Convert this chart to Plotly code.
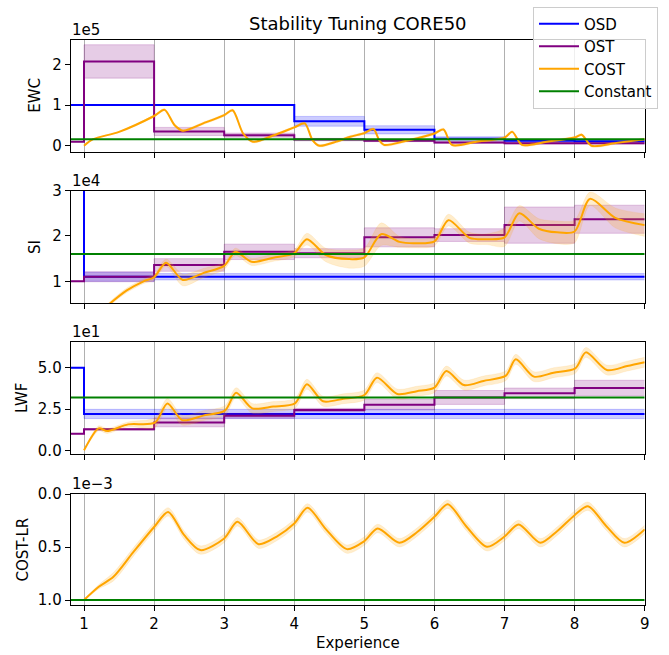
import plotly.graph_objects as go

W, H = 669, 655

# ---------------- data ----------------
methods = ["OSD", "OST", "COST", "Constant"]
colors = {"OSD": "#0000ff", "OST": "#800080", "COST": "#ffa500", "Constant": "#008000"}
band_rgba = {"OSD": "rgba(0,0,255,0.2)", "OST": "rgba(128,0,128,0.2)", "COST": "rgba(255,165,0,0.2)"}

# experience boundaries for the stepwise (per-experience) schedules
step_edges = [0.8, 1, 2, 3, 4, 5, 6, 7, 8, 9]

# EWC lambda
ewc_osd = [1.0e5, 1.0e5, 1.0e5, 1.0e5, 0.60e5, 0.39e5, 0.17e5, 0.12e5, 0.11e5]
ewc_osd_std = [0, 0, 0, 0, 0.12e5, 0.10e5, 0.05e5, 0.03e5, 0.02e5]
ewc_ost = [0.10e5, 2.07e5, 0.35e5, 0.26e5, 0.15e5, 0.12e5, 0.08e5, 0.06e5, 0.06e5]
ewc_ost_std = [0, 0.41e5, 0.10e5, 0.05e5, 0.03e5, 0.02e5, 0.02e5, 0.02e5, 0.02e5]
ewc_const = 1.6e4
ewc_cost_x = [1.0, 1.13, 1.5, 2.0, 2.15, 2.29, 2.41, 2.7, 3.0, 3.12, 3.27, 3.41, 3.7,
              4.0, 4.15, 4.26, 4.36, 4.6, 4.8, 5.0, 5.13, 5.21, 5.28, 5.6, 6.0, 6.13,
              6.25, 6.6, 7.0, 7.11, 7.25, 7.6, 8.0, 8.1, 8.24, 8.6, 9.0]
ewc_cost = [0.0, 0.16e5, 0.34e5, 0.73e5, 0.88e5, 0.51e5, 0.37e5, 0.55e5, 0.75e5, 0.87e5,
            0.30e5, 0.10e5, 0.25e5, 0.45e5, 0.55e5, 0.14e5, 0.0, 0.10e5, 0.22e5, 0.31e5,
            0.41e5, 0.14e5, 0.02e5, 0.12e5, 0.30e5, 0.40e5, 0.02e5, 0.10e5, 0.20e5,
            0.34e5, 0.02e5, 0.10e5, 0.20e5, 0.27e5, 0.0, 0.07e5, 0.16e5]
ewc_cost_std = [0.01e5] * 3 + [0.03e5] * 34

# SI lambda
si_osd = [1.0e5, 1.1e4, 1.1e4, 1.1e4, 1.1e4, 1.1e4, 1.1e4, 1.1e4, 1.1e4]
si_osd_std = [0, 0.10e4, 0.07e4, 0.07e4, 0.07e4, 0.07e4, 0.07e4, 0.07e4, 0.07e4]
si_ost = [1.0e4, 1.10e4, 1.36e4, 1.65e4, 1.62e4, 1.97e4, 2.02e4, 2.24e4, 2.37e4]
si_ost_std = [0, 0.11e4, 0.14e4, 0.17e4, 0.10e4, 0.21e4, 0.14e4, 0.40e4, 0.31e4]
si_const = 1.6e4
si_cost_x = [1.0, 1.37, 1.61, 1.85, 2.0, 2.17, 2.41, 2.7, 3.0, 3.16, 3.39, 3.7, 4.0,
             4.18, 4.45, 4.78, 5.0, 5.24, 5.5, 5.7, 6.0, 6.2, 6.5, 6.75, 7.0, 7.21,
             7.49, 7.75, 8.0, 8.22, 8.58, 9.0]
si_cost = [0.0, 0.51e4, 0.80e4, 1.00e4, 1.09e4, 1.41e4, 1.03e4, 1.18e4, 1.34e4, 1.65e4,
           1.43e4, 1.52e4, 1.62e4, 1.93e4, 1.58e4, 1.49e4, 1.53e4, 2.04e4, 1.87e4,
           1.84e4, 1.88e4, 2.35e4, 1.96e4, 1.93e4, 1.97e4, 2.50e4, 2.16e4, 2.08e4,
           2.10e4, 2.82e4, 2.40e4, 2.24e4]
si_cost_std = [0.02e4, 0.04e4, 0.05e4, 0.05e4, 0.06e4, 0.08e4, 0.13e4, 0.10e4, 0.08e4,
               0.08e4, 0.08e4, 0.08e4, 0.08e4, 0.13e4, 0.15e4, 0.20e4, 0.20e4, 0.25e4,
               0.12e4, 0.10e4, 0.10e4, 0.13e4, 0.12e4, 0.12e4, 0.20e4, 0.17e4, 0.22e4,
               0.25e4, 0.25e4, 0.15e4, 0.22e4, 0.25e4]

# LwF alpha
lwf_osd = [50, 22, 22, 22, 22, 22, 22, 22, 22]
lwf_osd_std = [0, 2.8, 2.8, 2.8, 2.8, 2.8, 2.8, 2.8, 2.8]
lwf_ost = [10, 12.7, 16.9, 20.9, 24.4, 27.6, 32.0, 34.5, 37.7]
lwf_ost_std = [0, 0.5, 2.7, 1.5, 1.0, 3.2, 4.2, 3.2, 4.7]
lwf_const = 32
lwf_cost_x = [1.0, 1.21, 1.33, 1.63, 2.01, 2.19, 2.40, 2.7, 3.01, 3.17, 3.40, 3.7, 4.01,
              4.18, 4.41, 4.7, 5.0, 5.18, 5.47, 5.75, 6.0, 6.17, 6.42, 6.7, 7.02, 7.16,
              7.42, 7.7, 8.01, 8.16, 8.46, 8.75, 9.0]
lwf_cost = [0.0, 13.3, 11.7, 15.7, 16.7, 28.4, 18.3, 21.0, 24.0, 34.9, 25.4, 26.5, 28.4,
            40.0, 29.7, 31.2, 33.5, 44.0, 34.1, 35.8, 37.9, 48.0, 39.5, 42.0, 45.2, 55.1,
            44.6, 47.0, 49.6, 59.3, 48.6, 51.0, 53.3]
lwf_cost_std = [0.5, 1.5, 1.5, 1.5] + [3.0] * 29

# COST learning rate
lr_const = 1.0e-3
lr_cost_x = [1.0, 1.21, 1.42, 1.7, 2.0, 2.2, 2.43, 2.66, 3.0, 3.19, 3.49, 3.75, 4.0, 4.19,
             4.45, 4.75, 5.0, 5.19, 5.5, 5.75, 6.0, 6.19, 6.45, 6.75, 7.0, 7.2, 7.51,
             7.75, 8.0, 8.19, 8.45, 8.71, 9.0]
lr_cost = [1.0e-3, 0.875e-3, 0.78e-3, 0.55e-3, 0.31e-3, 0.167e-3, 0.387e-3, 0.528e-3,
           0.418e-3, 0.261e-3, 0.472e-3, 0.40e-3, 0.277e-3, 0.129e-3, 0.33e-3, 0.519e-3,
           0.443e-3, 0.324e-3, 0.459e-3, 0.36e-3, 0.214e-3, 0.094e-3, 0.30e-3, 0.497e-3,
           0.40e-3, 0.286e-3, 0.459e-3, 0.35e-3, 0.198e-3, 0.113e-3, 0.30e-3, 0.459e-3,
           0.333e-3]
lr_cost_std = [0.005e-3, 0.02e-3] + [0.04e-3] * 31

# axis tick labels (values shown with an offset exponent)
panel_names = ["EWC", "SI", "LWF", "COST-LR"]
panel_exponents = ["1e5", "1e4", "1e1", "1e\u22123"]
ytick_vals = [[0, 1e5, 2e5], [1e4, 2e4, 3e4], [0, 25, 50], [0, 0.5e-3, 1e-3]]
ytick_text = [["0", "1", "2"], ["1", "2", "3"], ["0.0", "2.5", "5.0"], ["0.0", "0.5", "1.0"]]
x_ticks = [1, 2, 3, 4, 5, 6, 7, 8, 9]

# ---------------- layout geometry (pixels) ----------------
PLOT_L, PLOT_R = 70.7, 644.7
panel_px = [(40.0, 151.7), (190.7, 303.3), (342.3, 453.7), (494.0, 605.0)]
y_ranges = [[-0.147e5, 2.597e5], [0.514e4, 3.0e4], [-2.06, 65.4], [1.047e-3, -0.002e-3]]
FONT = "DejaVu Sans"
FS = 15


def xp(px):
    return px / W


def yp(py):
    return 1 - py / H


fig = go.Figure()


def axis_ids(i):
    s = "" if i == 1 else str(i)
    return "x" + s, "y" + s


def add_step(i, name, vals, std):
    xa, ya = axis_ids(i)
    y = list(vals) + [vals[-1]]
    s = list(std) + [std[-1]]
    lo = [a - b for a, b in zip(y, s)]
    hi = [a + b for a, b in zip(y, s)]
    edge = dict(width=1, color=band_rgba[name], shape="hv")
    fig.add_trace(go.Scatter(x=step_edges, y=lo, mode="lines", line=edge, xaxis=xa, yaxis=ya,
                             showlegend=False, hoverinfo="skip"))
    fig.add_trace(go.Scatter(x=step_edges, y=hi, mode="lines", line=edge, fill="tonexty",
                             fillcolor=band_rgba[name], xaxis=xa, yaxis=ya,
                             showlegend=False, hoverinfo="skip"))
    fig.add_trace(go.Scatter(x=step_edges, y=y, mode="lines", name=name,
                             line=dict(color=colors[name], width=2, shape="hv"),
                             xaxis=xa, yaxis=ya, showlegend=(i == 1)))


def add_curve(i, xs, vals, std):
    xa, ya = axis_ids(i)
    name = "COST"
    lo = [a - b for a, b in zip(vals, std)]
    hi = [a + b for a, b in zip(vals, std)]
    edge = dict(width=0.5, color=band_rgba[name], shape="spline", smoothing=0.8)
    fig.add_trace(go.Scatter(x=xs, y=lo, mode="lines", line=edge, xaxis=xa, yaxis=ya,
                             showlegend=False, hoverinfo="skip"))
    fig.add_trace(go.Scatter(x=xs, y=hi, mode="lines", line=edge, fill="tonexty",
                             fillcolor=band_rgba[name], xaxis=xa, yaxis=ya,
                             showlegend=False, hoverinfo="skip"))
    fig.add_trace(go.Scatter(x=xs, y=vals, mode="lines", name=name,
                             line=dict(color=colors[name], width=2, shape="spline", smoothing=0.8),
                             xaxis=xa, yaxis=ya, showlegend=(i == 1)))


def add_const(i, val):
    xa, ya = axis_ids(i)
    fig.add_trace(go.Scatter(x=[step_edges[0], step_edges[-1]], y=[val, val], mode="lines",
                             name="Constant",
                             line=dict(color=colors["Constant"], width=2),
                             xaxis=xa, yaxis=ya, showlegend=(i == 1)))


add_step(1, "OSD", ewc_osd, ewc_osd_std)
add_step(1, "OST", ewc_ost, ewc_ost_std)
add_curve(1, ewc_cost_x, ewc_cost, ewc_cost_std)
add_const(1, ewc_const)

add_step(2, "OSD", si_osd, si_osd_std)
add_step(2, "OST", si_ost, si_ost_std)
add_curve(2, si_cost_x, si_cost, si_cost_std)
add_const(2, si_const)

add_step(3, "OSD", lwf_osd, lwf_osd_std)
add_step(3, "OST", lwf_ost, lwf_ost_std)
add_curve(3, lwf_cost_x, lwf_cost, lwf_cost_std)
add_const(3, lwf_const)

add_curve(4, lr_cost_x, lr_cost, lr_cost_std)
add_const(4, lr_const)

layout = {}
annotations = []
for i, (top, bot) in enumerate(panel_px, 1):
    s = "" if i == 1 else str(i)
    layout["xaxis" + s] = dict(
        domain=[xp(PLOT_L), xp(PLOT_R)], range=[0.81, 9.0], anchor="y" + s,
        tickmode="array", tickvals=x_ticks, ticktext=[str(t) for t in x_ticks],
        showticklabels=(i == 4), ticks="outside", ticklen=5, tickwidth=1, tickcolor="black",
        showgrid=True, gridcolor="#b0b0b0", gridwidth=1, zeroline=False,
        showline=True, mirror=True, linecolor="black", linewidth=1,
        tickfont=dict(family=FONT, size=FS, color="black"))
    layout["yaxis" + s] = dict(
        domain=[yp(bot), yp(top)], range=y_ranges[i - 1], anchor="x" + s,
        tickmode="array", tickvals=ytick_vals[i - 1], ticktext=ytick_text[i - 1],
        ticks="outside", ticklen=5, tickwidth=1, tickcolor="black",
        showgrid=False, zeroline=False, showline=True, mirror=True,
        linecolor="black", linewidth=1,
        tickfont=dict(family=FONT, size=FS, color="black"))
    annotations.append(dict(
        text=panel_exponents[i - 1], xref="paper", yref="paper", x=xp(PLOT_L - 1),
        y=yp(top - 10), xanchor="left", yanchor="middle", showarrow=False,
        font=dict(family=FONT, size=FS, color="black")))
    label_x = {1: 35, 2: 35, 3: 22, 4: 22}[i]
    annotations.append(dict(
        text=panel_names[i - 1], xref="paper", yref="paper", x=xp(label_x),
        y=yp((top + bot) / 2), xanchor="center", yanchor="middle", textangle=-90,
        showarrow=False, font=dict(family=FONT, size=FS, color="black")))

annotations.append(dict(
    text="Stability Tuning CORE50", xref="paper", yref="paper",
    x=xp((PLOT_L + PLOT_R) / 2), y=yp(24), xanchor="center", yanchor="middle",
    showarrow=False, font=dict(family=FONT, size=18, color="black")))
annotations.append(dict(
    text="Experience", xref="paper", yref="paper",
    x=xp((PLOT_L + PLOT_R) / 2), y=yp(643), xanchor="center", yanchor="middle",
    showarrow=False, font=dict(family=FONT, size=FS, color="black")))

fig.update_layout(
    **layout,
    annotations=annotations,
    width=W, height=H, autosize=False,
    margin=dict(l=0, r=0, t=0, b=0, pad=0, autoexpand=False),
    paper_bgcolor="white", plot_bgcolor="white",
    legend=dict(x=xp(533), y=yp(6.5), xanchor="left", yanchor="top",
                bgcolor="rgba(255,255,255,0.8)", bordercolor="#cccccc", borderwidth=1,
                font=dict(family=FONT, size=FS, color="black"),
                traceorder="normal", itemwidth=40),
    showlegend=True,
    font=dict(family=FONT),
)

fig.write_html("out.html")
